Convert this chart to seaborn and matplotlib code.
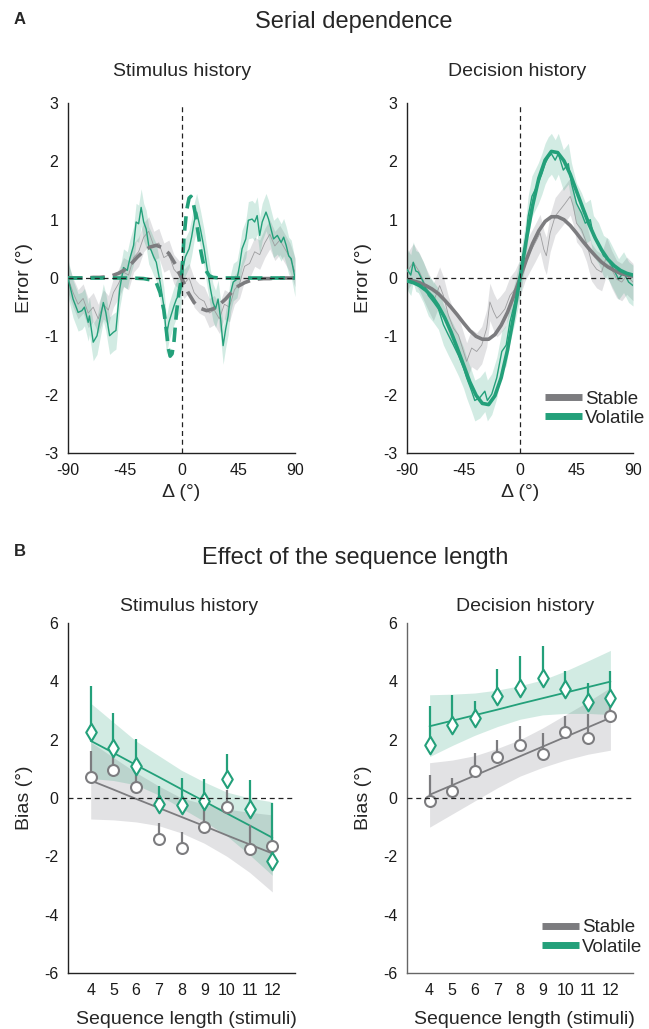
import numpy as np
import pandas as pd
import seaborn as sns
import matplotlib.pyplot as plt
from matplotlib.lines import Line2D

GREEN = '#23a07a'
GRAY = '#7c7c7f'
THIN_GRAY = '#9d9d9f'
BAND_GREEN = (0.13, 0.62, 0.46)
BAND_GRAY = (0.55, 0.55, 0.58)

# ---- A / stimulus history: running averages (deg, error) ----
stim_vol_x = [-90, -86, -83, -82, -79, -77, -74, -73, -70, -67, -65, -62, -60, -57, -54, -52,
              -49, -46, -43, -41, -38, -36, -34, -32, -30, -28, -26, -24, -22, -20, -17, -14,
              -12, -10, -6, -4, -1, 1, 3, 6, 8, 10, 12, 15, 18, 20, 23, 25, 27, 29, 31, 33,
              35, 37, 39, 41, 44, 46, 48, 51, 53, 56, 58, 60, 62, 64, 67, 69, 71, 73, 76, 79,
              81, 83, 85, 87, 90]
stim_vol_y = [0.0, -0.36, -0.53, -0.59, -0.56, -0.50, -0.76, -0.65, -1.10, -0.99, -0.76, -0.42,
              -0.59, -0.99, -0.93, -0.90, -0.19, 0.18, 0.13, 0.33, 0.56, 0.96, 0.93, 1.21, 0.96,
              0.84, 0.56, 0.47, 0.36, 0.27, -0.07, -0.48, -0.99, -0.76, -0.48, -0.36, -0.25,
              0.15, 0.36, 0.50, 0.70, 0.96, 1.13, 0.84, 0.50, 0.21, -0.19, -0.42, -0.53, -0.36,
              -0.70, -1.16, -0.88, -0.65, -0.25, -0.07, -0.02, 0.21, 0.50, 0.67, 0.99, 1.01,
              0.96, 1.07, 0.73, 0.96, 1.13, 1.01, 0.84, 0.67, 0.73, 0.61, 0.70, 0.56, 0.38,
              0.33, 0.0]
stim_vol_sem = 0.32

stim_stab_x = [-90, -86, -82, -78, -74, -70, -66, -62, -58, -54, -50, -46, -42, -38, -34, -30,
               -26, -22, -18, -14, -10, -6, -2, 2, 6, 10, 14, 18, 22, 26, 30, 34, 38, 42, 46,
               50, 54, 58, 62, 66, 70, 74, 78, 82, 86, 90]
stim_stab_y = [0.0, -0.25, -0.45, -0.35, -0.6, -0.5, -0.7, -0.45, -0.55, -0.25, -0.1, 0.1,
               0.05, 0.35, 0.45, 0.7, 0.8, 0.55, 0.6, 0.35, 0.4, 0.15, 0.05, -0.1, 0.0, -0.25,
               -0.35, -0.4, -0.6, -0.55, -0.7, -0.45, -0.5, -0.2, -0.1, 0.2, 0.25, 0.45, 0.4,
               0.6, 0.75, 0.55, 0.65, 0.5, 0.35, 0.1]
stim_stab_sem = 0.25

# DoG fits (dashed)
stim_stab_fit_x = [-90, -85, -80, -75, -70, -65, -60, -55, -50, -45, -40, -35, -30, -25, -20,
                   -15, -10, -5, 0, 5, 10, 15, 20, 25, 30, 35, 40, 45, 50, 55, 60, 65, 70, 75,
                   80, 85, 90]
stim_stab_fit_y = [0, 0, 0, 0, 0.01, 0.01, 0.02, 0.04, 0.08, 0.14, 0.24, 0.36, 0.46, 0.53, 0.56,
                   0.52, 0.42, 0.24, 0, -0.24, -0.42, -0.52, -0.56, -0.53, -0.46, -0.36, -0.24,
                   -0.14, -0.08, -0.04, -0.02, -0.01, -0.01, 0, 0, 0, 0]
stim_vol_fit_x = [-90, -40, -30, -25, -20, -17, -14, -12, -10.5, -9, -7.5, -6, -4, -2, 0, 2, 4,
                  6, 7.5, 9, 11, 13, 15, 17, 19, 22, 25, 30, 90]
stim_vol_fit_y = [0, 0, -0.01, -0.03, -0.08, -0.25, -0.55, -0.9, -1.2, -1.34, -1.3, -1.1, -0.6,
                  -0.25, 0, 0.7, 1.15, 1.37, 1.4, 1.32, 1.1, 0.8, 0.5, 0.28, 0.14, 0.04, 0.01,
                  0, 0]

# ---- A / decision history ----
dec_vol_x = [-90, -87, -85, -83, -81, -77, -73, -69, -65, -61, -57, -53, -49, -45, -42.5,
             -38.5, -36, -32, -28, -26, -22.5, -18.5, -14.5, -11, -8, -4, 0, 4, 6.5, 9.5, 12,
             14.5, 17.5, 20, 22.5, 25, 28, 30.5, 34.5, 38.5, 41, 45, 49, 52, 56, 58.5, 62.5,
             66.5, 70.5, 74.5, 78.5, 82.5, 86.5, 90]
dec_vol_y = [0.15, 0.05, 0.27, 0.12, 0.10, -0.07, -0.30, -0.41, -0.53, -0.80, -0.98, -1.15,
             -1.33, -1.54, -1.71, -1.94, -2.10, -2.05, -1.94, -2.10, -1.99, -1.71, -1.26, -1.15,
             -0.75, -0.41, 0, 0.55, 1.06, 1.40, 1.51, 1.62, 1.79, 1.96, 2.07, 2.13, 2.02, 2.13,
             1.85, 1.96, 1.62, 1.28, 1.11, 0.94, 1.00, 0.72, 0.60, 0.38, 0.32, 0.15, -0.02,
             0.10, -0.07, -0.13]
dec_vol_sem = 0.35

dec_stab_x = [-90, -85, -80, -74, -69, -64, -61, -57, -53, -49, -45, -42.5, -38.5, -34.5,
              -30.5, -26.5, -24, -21, -18.5, -16, -12, -8, -4, 0, 4, 8, 12, 16, 19, 21, 24, 28,
              32, 36, 40, 42.5, 45, 49, 53, 57, 61, 65, 69, 73, 77, 81, 85, 90]
dec_stab_y = [0.10, 0.27, 0.10, -0.19, -0.41, -0.13, -0.30, -0.64, -0.86, -0.98, -1.26, -1.43,
              -1.20, -1.26, -1.15, -0.86, -0.41, -0.58, -0.69, -0.64, -0.53, -0.30, -0.19, 0,
              0.27, 0.44, 0.60, 0.77, 0.49, 0.38, 0.77, 1.06, 1.17, 1.28, 1.40, 1.23, 0.94,
              0.83, 0.60, 0.27, 0.15, 0.10, 0.38, 0.15, -0.02, -0.07, 0.04, -0.07]
dec_stab_sem = 0.32

dec_fit_x = [-90, -85, -80, -75, -70, -65, -60, -55, -50, -45, -40, -35, -30, -25, -20, -15,
             -10, -5, 0, 5, 10, 15, 20, 25, 30, 35, 40, 45, 50, 55, 60, 65, 70, 75, 80, 85, 90]
dec_stab_fit_y = [-0.03, -0.05, -0.08, -0.13, -0.19, -0.27, -0.38, -0.50, -0.63, -0.77, -0.90,
                  -1.00, -1.05, -1.05, -0.97, -0.81, -0.59, -0.31, 0, 0.31, 0.59, 0.81, 0.97,
                  1.05, 1.05, 1.00, 0.90, 0.77, 0.63, 0.50, 0.38, 0.27, 0.19, 0.13, 0.08, 0.05,
                  0.03]
dec_vol_fit_y = [-0.05, -0.08, -0.13, -0.21, -0.32, -0.48, -0.68, -0.92, -1.20, -1.49, -1.78,
                 -2.01, -2.15, -2.17, -2.02, -1.71, -1.24, -0.65, 0, 0.65, 1.24, 1.71, 2.02,
                 2.17, 2.15, 2.01, 1.78, 1.49, 1.20, 0.92, 0.68, 0.48, 0.32, 0.21, 0.13, 0.08,
                 0.05]

# ---- B / effect of sequence length ----
seq_len = [4, 5, 6, 7, 8, 9, 10, 11, 12]

sb_stab_bias = [0.71, 0.96, 0.39, -1.40, -1.71, -0.98, -0.32, -1.76, -1.66]
sb_stab_top = [1.61, 1.45, 1.08, -0.87, -1.16, -0.41, 0.27, -0.93, -1.10]
sb_vol_bias = [2.26, 1.73, 1.11, -0.21, -0.23, -0.10, 0.65, -0.39, -2.15]
sb_vol_top = [3.85, 2.91, 2.02, 0.41, 0.68, 0.64, 1.51, 0.62, -0.16]
sb_stab_fit = [0.60, 0.29, -0.03, -0.34, -0.65, -0.96, -1.28, -1.59, -1.90]
sb_stab_lo = [-0.72, -0.75, -0.82, -0.95, -1.20, -1.55, -2.00, -2.55, -3.22]
sb_stab_hi = [1.92, 1.39, 0.87, 0.41, 0.00, -0.21, -0.38, -0.49, -0.58]
sb_vol_fit = [1.96, 1.55, 1.13, 0.72, 0.30, -0.11, -0.53, -0.94, -1.36]
sb_vol_lo = [0.67, 0.60, 0.45, 0.10, -0.35, -0.80, -1.30, -1.95, -2.65]
sb_vol_hi = [3.25, 2.60, 1.95, 1.45, 0.95, 0.55, 0.20, 0.00, -0.13]

db_stab_bias = [-0.09, 0.23, 0.91, 1.40, 1.82, 1.52, 2.28, 2.05, 2.80]
db_stab_top = [0.79, 0.68, 1.53, 1.98, 2.48, 2.23, 2.82, 2.89, 3.50]
db_vol_bias = [1.81, 2.50, 2.74, 3.51, 3.76, 4.11, 3.75, 3.29, 3.43]
db_vol_top = [3.16, 3.54, 3.31, 4.42, 4.87, 5.21, 4.36, 3.93, 4.34]
db_stab_fit = [0.11, 0.44, 0.77, 1.10, 1.43, 1.76, 2.09, 2.42, 2.75]
db_stab_lo = [-1.00, -0.55, -0.10, 0.35, 0.75, 1.05, 1.30, 1.50, 1.64]
db_stab_hi = [1.21, 1.30, 1.45, 1.70, 2.00, 2.40, 2.85, 3.30, 3.79]
db_vol_fit = [2.46, 2.65, 2.84, 3.03, 3.23, 3.42, 3.61, 3.80, 3.99]
db_vol_lo = [1.42, 1.80, 2.15, 2.45, 2.70, 2.85, 2.90, 2.90, 2.86]
db_vol_hi = [3.54, 3.56, 3.60, 3.70, 3.85, 4.05, 4.35, 4.70, 5.06]

sns.set_style('white')
plt.rcParams['font.family'] = ['Liberation Sans', 'DejaVu Sans']
plt.rcParams['axes.unicode_minus'] = False

W, H = 649, 1029
fig = plt.figure(figsize=(W / 100, H / 100), dpi=100)


def box(x0, x1, y0, y1):
    return [x0 / W, 1 - y1 / H, (x1 - x0) / W, (y1 - y0) / H]


def style_axes(ax, spine='#222222'):
    sns.despine(ax=ax)
    for s in ['left', 'bottom']:
        ax.spines[s].set_color(spine)
        ax.spines[s].set_linewidth(1.0)
    ax.tick_params(length=0, labelsize=11.5, pad=7, colors='#1a1a1a')


def zero_lines(ax, vertical=True):
    ax.axhline(0, color='#222222', lw=0.9, ls=(0, (4, 3)), zorder=6)
    if vertical:
        ax.axvline(0, color='#222222', lw=0.9, ls=(0, (4, 3)), zorder=6)


def noisy(ax, x, y, sem, color, band, alpha, lw):
    x = np.asarray(x)
    y = np.asarray(y)
    ax.fill_between(x, y - sem, y + sem, color=band, alpha=alpha, lw=0, zorder=1)
    sns.lineplot(x=x, y=y, ax=ax, color=color, lw=lw, estimator=None, sort=False, zorder=3)


def panel_a(ax):
    ax.set_xlim(-90, 90)
    ax.set_ylim(-3, 3)
    ax.set_xticks([-90, -45, 0, 45, 90])
    ax.set_yticks([-3, -2, -1, 0, 1, 2, 3])
    ax.set_xlabel('Δ (°)', fontsize=14)
    ax.set_ylabel('Error (°)', fontsize=14)
    ax.xaxis.set_label_coords(0.5, -0.088)
    ax.yaxis.set_label_coords(-0.155, 0.5)
    style_axes(ax)


# A left: stimulus history
ax1 = fig.add_axes(box(68, 295, 103, 453))
noisy(ax1, stim_stab_x, stim_stab_y, stim_stab_sem, THIN_GRAY, BAND_GRAY, 0.25, 0.6)
noisy(ax1, stim_vol_x, stim_vol_y, stim_vol_sem, GREEN, BAND_GREEN, 0.2, 1.0)
sns.lineplot(x=stim_stab_fit_x, y=stim_stab_fit_y, ax=ax1, color=GRAY, lw=2.6,
             linestyle=(0, (4, 2.2)), estimator=None, sort=False, zorder=4)
sns.lineplot(x=stim_vol_fit_x, y=stim_vol_fit_y, ax=ax1, color=GREEN, lw=2.6,
             linestyle=(0, (4, 2.2)), estimator=None, sort=False, zorder=5)
zero_lines(ax1)
panel_a(ax1)

# A right: decision history
ax2 = fig.add_axes(box(407, 633, 103, 453))
noisy(ax2, dec_stab_x, dec_stab_y, dec_stab_sem, THIN_GRAY, BAND_GRAY, 0.25, 0.6)
noisy(ax2, dec_vol_x, dec_vol_y, dec_vol_sem, GREEN, BAND_GREEN, 0.2, 1.0)
sns.lineplot(x=dec_fit_x, y=dec_stab_fit_y, ax=ax2, color=GRAY, lw=2.6,
             estimator=None, sort=False, zorder=4)
sns.lineplot(x=dec_fit_x, y=dec_vol_fit_y, ax=ax2, color=GREEN, lw=2.6,
             estimator=None, sort=False, zorder=5)
zero_lines(ax2)
panel_a(ax2)

legend_handles = [Line2D([], [], color=GRAY, lw=5, solid_capstyle='butt'),
                  Line2D([], [], color=GREEN, lw=5, solid_capstyle='butt')]
ax2.legend(legend_handles, ['Stable', 'Volatile'], loc='lower left',
           bbox_to_anchor=(0.61, 0.075), frameon=False, fontsize=13.5, handlelength=2.0,
           handletextpad=0.15, labelspacing=0.1, borderpad=0, borderaxespad=0)


def panel_b(ax, stab_bias, stab_top, vol_bias, vol_top, stab_fit, stab_lo, stab_hi,
            vol_fit, vol_lo, vol_hi, spine):
    ax.fill_between(seq_len, stab_lo, stab_hi, color=BAND_GRAY, alpha=0.25, lw=0, zorder=1)
    ax.fill_between(seq_len, vol_lo, vol_hi, color=BAND_GREEN, alpha=0.2, lw=0, zorder=1)
    sns.lineplot(x=seq_len, y=stab_fit, ax=ax, color=GRAY, lw=1.3, estimator=None, zorder=2)
    sns.lineplot(x=seq_len, y=vol_fit, ax=ax, color=GREEN, lw=1.3, estimator=None, zorder=2)
    ax.vlines(seq_len, stab_bias, stab_top, color=GRAY, lw=1.6, zorder=3)
    ax.vlines(seq_len, vol_bias, vol_top, color=GREEN, lw=1.6, zorder=3)
    sns.scatterplot(x=seq_len, y=stab_bias, ax=ax, marker='o', s=62, color='white',
                    edgecolor=GRAY, linewidth=1.5, zorder=4)
    sns.scatterplot(x=seq_len, y=vol_bias, ax=ax, marker='d', s=80, color='white',
                    edgecolor=GREEN, linewidth=1.5, zorder=5)
    ax.axhline(0, color='#222222', lw=0.9, ls=(0, (4, 3)), zorder=6)
    ax.set_xlim(3, 13)
    ax.set_ylim(-6, 6)
    ax.set_xticks(seq_len)
    ax.set_yticks([-6, -4, -2, 0, 2, 4, 6])
    ax.set_xlabel('Sequence length (stimuli)', fontsize=14)
    ax.set_ylabel('Bias (°)', fontsize=14)
    ax.xaxis.set_label_coords(0.52, -0.108)
    ax.yaxis.set_label_coords(-0.155, 0.5)
    style_axes(ax, spine)


ax3 = fig.add_axes(box(68, 295, 623, 973))
panel_b(ax3, sb_stab_bias, sb_stab_top, sb_vol_bias, sb_vol_top, sb_stab_fit, sb_stab_lo,
        sb_stab_hi, sb_vol_fit, sb_vol_lo, sb_vol_hi, '#222222')

ax4 = fig.add_axes(box(407, 633, 623, 973))
panel_b(ax4, db_stab_bias, db_stab_top, db_vol_bias, db_vol_top, db_stab_fit, db_stab_lo,
        db_stab_hi, db_vol_fit, db_vol_lo, db_vol_hi, '#666666')
ax4.legend(legend_handles, ['Stable', 'Volatile'], loc='lower left',
           bbox_to_anchor=(0.597, 0.05), frameon=False, fontsize=13.5, handlelength=2.0,
           handletextpad=0.15, labelspacing=0.1, borderpad=0, borderaxespad=0)

# titles
fig.text(20 / W, 1 - 20 / H, 'A', fontsize=12, fontweight='bold', ha='center', va='center')
fig.text(354 / W, 1 - 28 / H, 'Serial dependence', fontsize=17, ha='center', va='baseline')
fig.text(182 / W, 1 - 76 / H, 'Stimulus history', fontsize=14, ha='center', va='baseline')
fig.text(517 / W, 1 - 76 / H, 'Decision history', fontsize=14, ha='center', va='baseline')

fig.text(20 / W, 1 - 551 / H, 'B', fontsize=12, fontweight='bold', ha='center', va='center')
fig.text(355 / W, 1 - 564 / H, 'Effect of the sequence length', fontsize=17, ha='center',
         va='baseline')
fig.text(189 / W, 1 - 611 / H, 'Stimulus history', fontsize=14, ha='center', va='baseline')
fig.text(525 / W, 1 - 611 / H, 'Decision history', fontsize=14, ha='center', va='baseline')

fig.savefig('out.png', dpi=100)
